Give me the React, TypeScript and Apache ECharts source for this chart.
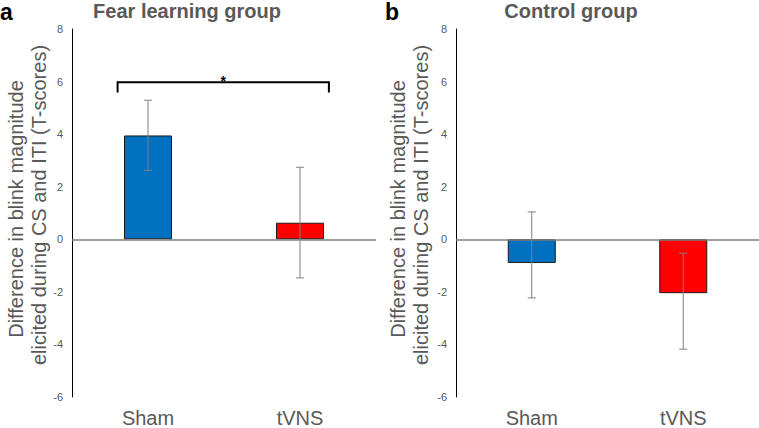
import React, { useEffect, useRef } from "react";
import * as echarts from "echarts";

const categories = ["Sham", "tVNS"];
const fearValues = [3.95, 0.63];
const fearErrLow = [2.62, -1.47];
const fearErrHigh = [5.29, 2.74];
const controlValues = [-0.9, -2.05];
const controlErrLow = [-2.23, -4.18];
const controlErrHigh = [1.04, -0.53];
const barColors = ["#0070C0", "#FF0000"];
const yTicks = { min: -6, max: 8, interval: 2 };
const panelTitles = ["Fear learning group", "Control group"];
const panelLetters = ["a", "b"];
const yNameLines = ["Difference in blink magnitude", "elicited during CS and ITI (T-scores)"];
// significance bracket: [fromCategory, toCategory, yValue, dropValue]
const bracket = [[0, 1, 5.97, 5.58]];
const bracketLabel = "*";

const FONT = "'Liberation Sans', Arial, Helvetica, sans-serif";
const GRAY = "#595959";

export default function App() {
  const ref = useRef<HTMLDivElement>(null);
  useEffect(() => {
    if (!ref.current) return;
    const chart = echarts.init(ref.current, null, { renderer: "svg" });

    const grids = [
      { left: 72, top: 29, width: 304, height: 373 },
      { left: 456, top: 29, width: 303, height: 373 },
    ];

    const xAxes = grids.map((_, i) => ({
      type: "category",
      gridIndex: i,
      data: categories,
      axisLine: { show: false },
      axisTick: { show: false },
      axisLabel: { color: GRAY, fontSize: 20, fontFamily: FONT, margin: 11 },
    }));
    const yAxes = grids.map((_, i) => ({
      type: "value",
      gridIndex: i,
      min: yTicks.min,
      max: yTicks.max,
      interval: yTicks.interval,
      axisLine: { show: true, lineStyle: { color: "#000", width: 1 } },
      axisTick: { show: false },
      splitLine: { show: false },
      axisLabel: { color: GRAY, fontSize: 11, fontFamily: FONT, margin: 9 },
    }));

    const makeBar = (i: number, vals: number[]) => ({
      type: "bar",
      xAxisIndex: i,
      yAxisIndex: i,
      barWidth: 48,
      data: vals.map((v, k) => ({
        value: v,
        itemStyle: { color: barColors[k], borderColor: "#1a1a1a", borderWidth: 1 },
      })),
      markLine: {
        silent: true,
        symbol: "none",
        label: { show: false },
        lineStyle: { color: "#7f7f7f", width: 1.5, type: "solid" },
        data: [{ yAxis: 0 }],
      },
      z: 2,
    });

    const makeErr = (i: number, lo: number[], hi: number[]) => ({
      type: "custom",
      xAxisIndex: i,
      yAxisIndex: i,
      z: 3,
      data: lo.map((l, k) => [k, l, hi[k]]),
      encode: { x: 0, y: [1, 2] },
      renderItem: (params: any, api: any) => {
        const x = api.value(0);
        const a = api.coord([x, api.value(1)]);
        const b = api.coord([x, api.value(2)]);
        const hw = 4;
        const style = { stroke: "#808080", lineWidth: 1 };
        return {
          type: "group",
          children: [
            { type: "line", shape: { x1: a[0], y1: a[1], x2: b[0], y2: b[1] }, style },
            { type: "line", shape: { x1: a[0] - hw, y1: a[1], x2: a[0] + hw, y2: a[1] }, style },
            { type: "line", shape: { x1: b[0] - hw, y1: b[1], x2: b[0] + hw, y2: b[1] }, style },
          ],
        };
      },
    });

    const bracketSeries = {
      type: "custom",
      xAxisIndex: 0,
      yAxisIndex: 0,
      z: 4,
      data: bracket,
      encode: { x: [0, 1], y: [2, 3] },
      renderItem: (params: any, api: any) => {
        const p0 = api.coord([api.value(0), api.value(2)]);
        const p1 = api.coord([api.value(1), api.value(2)]);
        const drop = api.coord([api.value(0), api.value(3)])[1];
        const band = api.size([1, 0])[0];
        const xl = p0[0] - 0.2 * band;
        const xr = p1[0] + 0.19 * band;
        const y = p0[1];
        return {
          type: "group",
          children: [
            {
              type: "polyline",
              shape: { points: [[xl, drop], [xl, y], [xr, y], [xr, drop]] },
              style: { stroke: "#000", lineWidth: 2, fill: null },
            },
            {
              type: "text",
              x: (xl + xr) / 2,
              y: y - 1,
              style: {
                text: bracketLabel,
                fill: "#000",
                fontSize: 14,
                fontWeight: "bold",
                fontFamily: FONT,
                align: "center",
                verticalAlign: "middle",
              },
            },
          ],
        };
      },
    };

    const graphic: any[] = [];
    const titleX = [187, 571];
    const letterX = [0, 385];
    const nameX = [[16, 39], [398, 421]];
    const nameY = [209, 205];
    for (let i = 0; i < 2; i++) {
      graphic.push({
        type: "text",
        left: letterX[i],
        top: 0,
        style: { text: panelLetters[i], fill: "#000", fontSize: 23, fontWeight: "bold", fontFamily: FONT },
      });
      graphic.push({
        type: "text",
        x: titleX[i],
        y: 11,
        style: {
          text: panelTitles[i],
          fill: GRAY,
          fontSize: 20,
          fontWeight: "bold",
          fontFamily: FONT,
          align: "center",
          verticalAlign: "middle",
        },
      });
      for (let j = 0; j < 2; j++) {
        graphic.push({
          type: "text",
          x: nameX[i][j],
          y: nameY[j],
          rotation: Math.PI / 2,
          style: {
            text: yNameLines[j],
            fill: GRAY,
            fontSize: 20,
            fontFamily: FONT,
            align: "center",
            verticalAlign: "middle",
          },
        });
      }
    }

    chart.setOption({
      animation: false,
      backgroundColor: "#fff",
      grid: grids,
      xAxis: xAxes,
      yAxis: yAxes,
      series: [
        makeBar(0, fearValues),
        makeBar(1, controlValues),
        makeErr(0, fearErrLow, fearErrHigh),
        makeErr(1, controlErrLow, controlErrHigh),
        bracketSeries,
      ],
      graphic,
    });
    return () => chart.dispose();
  }, []);
  return <div ref={ref} style={{ width: 759, height: 428, position: "absolute", left: 0, top: 0 }} />;
}
